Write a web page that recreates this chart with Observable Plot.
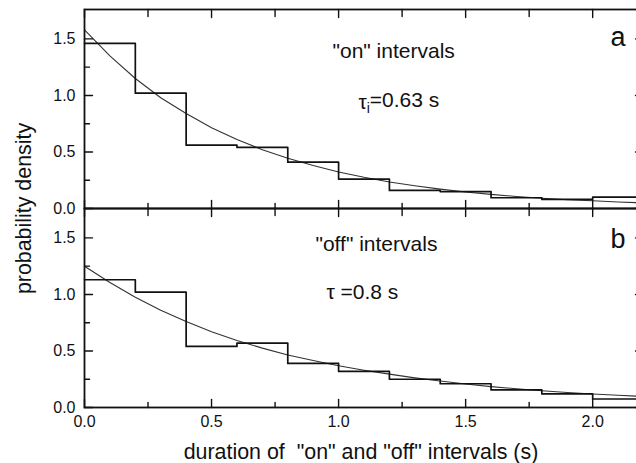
<!DOCTYPE html>
<html>
<head>
<meta charset="utf-8">
<script src="https://cdn.jsdelivr.net/npm/d3@7"></script>
<script src="https://cdn.jsdelivr.net/npm/@observablehq/plot@0.6"></script>
<style>
  html, body { margin: 0; padding: 0; background: #fff; }
  #wrap { width: 636px; height: 463px; overflow: hidden; position: relative; background: #fff; }
</style>
</head>
<body>
<div id="wrap"></div>
<script>
// ---- data ----
const panelIds = ["a", "b"];
const binEdges = [0, 0.2, 0.4, 0.6, 0.8, 1.0, 1.2, 1.4, 1.6, 1.8, 2.0, 2.2];
const onDensity  = [1.46, 1.02, 0.56, 0.54, 0.41, 0.26, 0.16, 0.15, 0.095, 0.08, 0.10];
const offDensity = [1.13, 1.02, 0.54, 0.57, 0.39, 0.32, 0.25, 0.21, 0.155, 0.12, 0.075];
const fitTime = [0, 0.1, 0.2, 0.3, 0.4, 0.5, 0.6, 0.7, 0.8, 0.9, 1.0, 1.1, 1.2, 1.3, 1.4, 1.5, 1.6, 1.7, 1.8, 1.9, 2.0, 2.1, 2.2];
const onFit  = [1.58, 1.35, 1.15, 0.98, 0.84, 0.715, 0.61, 0.52, 0.445, 0.38, 0.323, 0.276, 0.235, 0.201, 0.171, 0.146, 0.125, 0.106, 0.091, 0.077, 0.068, 0.058, 0.05];
const offFit = [1.25, 1.105, 0.975, 0.86, 0.76, 0.67, 0.592, 0.525, 0.465, 0.415, 0.37, 0.33, 0.295, 0.262, 0.234, 0.208, 0.185, 0.166, 0.148, 0.133, 0.12, 0.108, 0.097];
const xTicksMajor = [0, 0.5, 1.0, 1.5, 2.0];
const xTicksMinor = [0.25, 0.75, 1.25, 1.75];
const yTicksMajor = [0, 0.5, 1.0, 1.5];
const yTicksMinor = [0.25, 0.75, 1.25];
const xDomain = [0, 2.2];
const yDomain = [0, 1.76];
const xLabel = "duration of \u00a0\"on\" and \"off\" intervals (s)";
const yLabel = "probability density";
const annotations = [
  {panel: "a", text: "\"on\" intervals", x: 0.976, y: 1.328},
  {panel: "a", text: "τi=0.63 s", x: 1.078, y: 0.878},
  {panel: "b", text: "\"off\" intervals", x: 0.909, y: 1.385},
  {panel: "b", text: "τ =0.8 s", x: 0.952, y: 0.962}
];
const panelLetters = [
  {panel: "a", text: "a", x: 2.07, y: 1.434},
  {panel: "b", text: "b", x: 2.07, y: 1.412}
];

// ---- tables ----
const densities = {a: onDensity, b: offDensity};
const fits = {a: onFit, b: offFit};
const histTable = panelIds.flatMap(p => binEdges.map((e, i) => ({x: e, y: densities[p][Math.min(i, densities[p].length - 1)], panel: p})));
const fitTable = panelIds.flatMap(p => fitTime.map((t, i) => ({x: t, y: fits[p][i], panel: p})));

const FONT = "'Liberation Sans', Arial, Helvetica, sans-serif";
const tickShape = {draw(context, l) { context.moveTo(0, 0); context.lineTo(0, -l); }};
const ink = "#111";

function ticks(data, xacc, yacc, rotate, length) {
  return Plot.vector(data, {x: xacc, y: yacc, rotate, length, anchor: "start", shape: tickShape, stroke: ink, strokeWidth: 1.4});
}

const chart = Plot.plot({
  width: 645,
  height: 463,
  marginTop: 8,
  marginBottom: 56,
  marginLeft: 84,
  marginRight: 2,
  style: `max-width:none;overflow:visible;background:transparent;font-family:${FONT};color:${ink};`,
  x: {domain: xDomain},
  y: {domain: yDomain},
  fy: {domain: panelIds, padding: 0, axis: null},
  marks: [
    Plot.line(fitTable, {x: "x", y: "y", fy: "panel", stroke: "#333", strokeWidth: 1.1}),
    Plot.line(histTable, {x: "x", y: "y", fy: "panel", curve: "step-after", stroke: ink, strokeWidth: 1.7}),
    // inward tick marks on all four sides
    ticks(yTicksMajor, () => xDomain[0], d => d, 90, 8),
    ticks(yTicksMinor, () => xDomain[0], d => d, 90, 5),
    ticks(yTicksMajor, () => xDomain[1], d => d, -90, 8),
    ticks(yTicksMinor, () => xDomain[1], d => d, -90, 5),
    ticks(xTicksMajor, d => d, () => yDomain[0], 0, 8),
    ticks(xTicksMinor, d => d, () => yDomain[0], 0, 5),
    ticks(xTicksMajor, d => d, () => yDomain[1], 180, 8),
    ticks(xTicksMinor, d => d, () => yDomain[1], 180, 7),
    Plot.frame({stroke: ink, strokeWidth: 1.8}),
    Plot.axisY({ticks: yTicksMajor, tickSize: 0, tickPadding: 9, tickFormat: d3.format(".1f"), fontSize: 16, label: null, facetAnchor: "left"}),
    Plot.axisX({ticks: xTicksMajor, tickSize: 0, tickPadding: 8, tickFormat: d3.format(".1f"), fontSize: 16, label: null, facetAnchor: "bottom"}),
    Plot.text(annotations, {x: "x", y: "y", fy: "panel", text: "text", textAnchor: "start", lineAnchor: "bottom", fontSize: 21, fill: ink}),
    Plot.text(panelLetters, {x: "x", y: "y", fy: "panel", text: "text", textAnchor: "start", lineAnchor: "bottom", fontSize: 27, fill: ink}),
    Plot.text([xLabel], {fy: () => "b", frameAnchor: "bottom", dx: -3, dy: 51, text: d => d, textAnchor: "middle", lineAnchor: "bottom", fontSize: 21.4, fill: ink}),
    Plot.text([yLabel], {fy: () => "a", frameAnchor: "bottom-left", dx: -53.6, rotate: -90, text: d => d, textAnchor: "middle", lineAnchor: "bottom", fontSize: 21.4, fill: ink})
  ]
});

// subscript for tau_i
d3.select(chart).selectAll("text").filter(function() { return this.textContent === "τi=0.63 s"; }).each(function() {
  const t = d3.select(this);
  t.text(null);
  t.append("tspan").text("τ");
  t.append("tspan").attr("dy", "0.3em").attr("font-size", 14).text("i");
  t.append("tspan").attr("dy", "-0.3em").text("=0.63 s");
});

document.getElementById("wrap").appendChild(chart);
</script>
</body>
</html>
